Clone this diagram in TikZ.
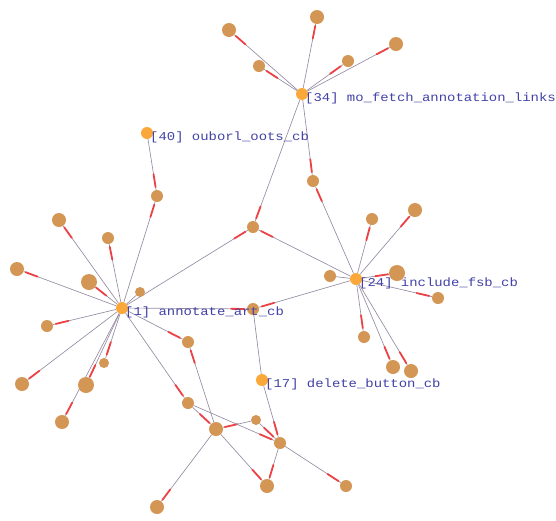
\documentclass[tikz,border=0pt]{standalone}
\usepackage{fontspec}
\setmonofont{Liberation Mono}
\usetikzlibrary{calc,backgrounds}
\definecolor{tan}{RGB}{212,150,84}
\definecolor{hubc}{RGB}{250,168,58}
\definecolor{edgec}{RGB}{150,140,162}
\definecolor{arrc}{RGB}{236,66,70}
\definecolor{txtc}{RGB}{66,66,168}
\tikzset{
  leaf/.style={circle,fill=tan,inner sep=0pt,minimum size=#1},
  leaf/.default=12pt,
  hub/.style={circle,fill=hubc,inner sep=0pt,minimum size=12pt},
  lbl/.style={anchor=west,inner sep=0pt,text=txtc,font=\ttfamily\fontsize{12}{12}\selectfont},
  edge/.style={draw=edgec,line width=0.65pt},
  arr/.style={draw=arrc,line width=1.8pt,line cap=round},
}
\newcommand\lnk[2]{\draw[edge] (#1) -- (#2); \draw[arr] ($(#2)!9pt!(#1)$) -- ($(#2)!22pt!(#1)$);}
\newcommand\hlbl[3]{\node[lbl] (#1) at ($(#2)+(3,4)$) {\scalebox{1.16}[1]{#3}};}
\begin{document}
\begin{tikzpicture}[x=1pt,y=-1pt]
\useasboundingbox (0,0) rectangle (556,520);
% hubs
\node[hub] (h34) at (302,94) {};
\node[hub] (h40) at (147,133) {};
\node[hub] (h24) at (356,279) {};
\node[hub] (h1) at (122,308) {};
\node[hub] (h17) at (262,380) {};
% leaves
\node[leaf=14pt] (a1) at (229,30) {};
\node[leaf=14pt] (a2) at (317,17) {};
\node[leaf=14pt] (a3) at (396,44) {};
\node[leaf] (a4) at (348,61) {};
\node[leaf] (a5) at (259,66) {};
\node[leaf] (b1) at (157,196) {};
\node[leaf] (m) at (253,227) {};
\node[leaf] (c) at (313,181) {};
\node[leaf] (d1) at (372,219) {};
\node[leaf=14pt] (d2) at (415,210) {};
\node[leaf=16pt] (d3) at (397,273) {};
\node[leaf] (d4) at (438,298) {};
\node[leaf] (d5) at (330,276) {};
\node[leaf] (n) at (253,309) {};
\node[leaf=10pt] (s) at (140,292) {};
\node[leaf=14pt] (l1) at (17,269) {};
\node[leaf=14pt] (l2) at (59,220) {};
\node[leaf] (l3) at (108,238) {};
\node[leaf=16pt] (l4) at (89,282) {};
\node[leaf] (l5) at (47,326) {};
\node[leaf=14pt] (l6) at (22,384) {};
\node[leaf=16pt] (l7) at (86,385) {};
\node[leaf=10pt] (l8) at (104,363) {};
\node[leaf=14pt] (l9) at (62,422) {};
\node[leaf] (p1) at (188,342) {};
\node[leaf] (p2) at (188,403) {};
\node[leaf=14pt] (p3) at (216,429) {};
\node[leaf=10pt] (p4) at (256,420) {};
\node[leaf] (p5) at (280,443) {};
\node[leaf=14pt] (p6) at (267,486) {};
\node[leaf] (p7) at (346,486) {};
\node[leaf=14pt] (p8) at (157,507) {};
\node[leaf] (e1) at (364,337) {};
\node[leaf=14pt] (e2) at (393,367) {};
\node[leaf=14pt] (e3) at (411,371) {};
% labels
\hlbl{t34}{h34}{[34] mo\_fetch\_annotation\_links}
\hlbl{t40}{h40}{[40] ouborl\_oots\_cb}
\hlbl{t1}{h1}{[1] annotate\_art\_cb}
\hlbl{t24}{h24}{[24] include\_fsb\_cb}
\hlbl{t17}{h17}{[17] delete\_button\_cb}
\begin{pgfonlayer}{background}
\fill[white] (0,0) rectangle (556,520);
\lnk{h34}{a1}
\lnk{h34}{a5}
\lnk{h34}{a2}
\lnk{h34}{a3}
\lnk{h34}{a4}
\lnk{h34}{c}
\lnk{h24}{c}
\lnk{h34}{m}
\lnk{h1}{m}
\lnk{h24}{m}
\lnk{h24}{d1}
\lnk{h24}{d2}
\lnk{h24}{d3}
\lnk{h24}{d4}
\draw[edge] (h24) -- (d5);
\lnk{h24}{n}
\lnk{h24}{e1}
\lnk{h24}{e2}
\lnk{h24}{e3}
\lnk{h1}{n}
\draw[edge] (h1) -- (s);
\lnk{h1}{l1}
\lnk{h1}{l2}
\lnk{h1}{l3}
\lnk{h1}{l4}
\lnk{h1}{l5}
\lnk{h1}{l6}
\lnk{h1}{l7}
\lnk{h1}{l8}
\lnk{h1}{l9}
\lnk{h1}{p1}
\lnk{h1}{p2}
\lnk{h1}{b1}
\lnk{h40}{b1}
\lnk{p3}{p1}
\lnk{p2}{p3}
\lnk{p4}{p3}
\lnk{p2}{p5}
\lnk{p4}{p5}
\lnk{p3}{p6}
\lnk{p5}{p6}
\lnk{p5}{p7}
\lnk{h17}{p5}
\draw[edge] (n) -- (h17);
\lnk{p3}{p8}
\end{pgfonlayer}
\end{tikzpicture}
\end{document}
